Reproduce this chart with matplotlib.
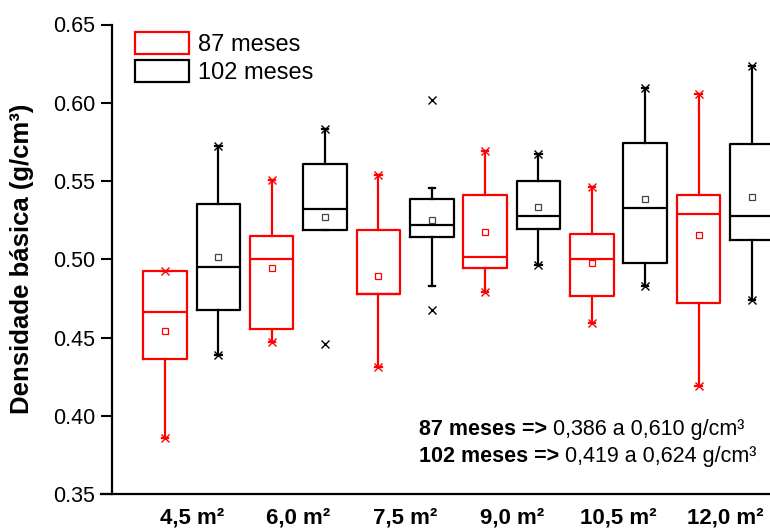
import matplotlib.pyplot as plt
from matplotlib.patches import Patch

plt.rcParams['font.family'] = ['Liberation Sans', 'DejaVu Sans']

groups = ['4,5 m²', '6,0 m²', '7,5 m²', '9,0 m²', '10,5 m²', '12,0 m²']

# 87 meses (red)
red_whislo = [0.386, 0.447, 0.431, 0.479, 0.459, 0.419]
red_q1 = [0.4365, 0.4552, 0.4775, 0.4943, 0.4764, 0.4722]
red_med = [0.4664, 0.5004, 0.4779, 0.5013, 0.5000, 0.5290]
red_q3 = [0.4923, 0.5147, 0.5189, 0.5411, 0.5159, 0.5408]
red_whishi = [0.4923, 0.5506, 0.5536, 0.5693, 0.5459, 0.6055]
red_mean = [0.4541, 0.4945, 0.4892, 0.5175, 0.4979, 0.5156]
red_min = [0.386, 0.447, 0.431, 0.479, 0.459, 0.419]
red_max = [0.4923, 0.5506, 0.5536, 0.5693, 0.5459, 0.6055]

# 102 meses (black)
black_whislo = [0.4388, 0.5187, 0.4828, 0.4964, 0.4828, 0.4739]
black_q1 = [0.4673, 0.5187, 0.5140, 0.5191, 0.4977, 0.5126]
black_med = [0.4951, 0.5319, 0.5219, 0.5274, 0.5330, 0.5274]
black_q3 = [0.5353, 0.5608, 0.5385, 0.5502, 0.5742, 0.5738]
black_whishi = [0.5721, 0.5831, 0.5453, 0.5674, 0.6093, 0.6237]
black_mean = [0.5017, 0.5268, 0.5249, 0.5332, 0.5385, 0.5398]
black_min = [0.4388, 0.4456, 0.4675, 0.4964, 0.4828, 0.4739]
black_max = [0.5721, 0.5831, 0.6017, 0.5674, 0.6093, 0.6237]

RED = '#ff0000'


def make_stats(lo, q1, med, q3, hi, mean, mn, mx):
    out = []
    for i in range(len(lo)):
        out.append({'whislo': lo[i], 'q1': q1[i], 'med': med[i], 'q3': q3[i],
                    'whishi': hi[i], 'mean': mean[i], 'fliers': [mn[i], mx[i]]})
    return out


def draw(ax, stats, pos, color, meancolor):
    ax.bxp(stats, positions=pos, widths=0.815, showmeans=True, capwidths=0.12,
           boxprops=dict(color=color, linewidth=1.6),
           whiskerprops=dict(color=color, linewidth=1.6),
           capprops=dict(color=color, linewidth=1.6),
           medianprops=dict(color=color, linewidth=1.6),
           meanprops=dict(marker='s', markersize=5, markerfacecolor='white',
                          markeredgecolor=meancolor, markeredgewidth=0.9),
           flierprops=dict(marker='x', markersize=5.5, markeredgecolor=color,
                           markeredgewidth=1.0))


fig = plt.figure(figsize=(7.7, 5.28), dpi=100)
ax = fig.add_axes([101 / 770, 34 / 528, 1 - 101 / 770, (494 - 24.5) / 528])
ax.spines['top'].set_visible(False)
ax.spines['right'].set_visible(False)
ax.spines['left'].set_position(('data', 0))
ax.spines['left'].set_linewidth(1.6)
ax.spines['bottom'].set_linewidth(1.6)

red_pos = [1, 3, 5, 7, 9, 11]
black_pos = [2, 4, 6, 8, 10, 12]
draw(ax, make_stats(red_whislo, red_q1, red_med, red_q3, red_whishi, red_mean, red_min, red_max),
     red_pos, RED, RED)
draw(ax, make_stats(black_whislo, black_q1, black_med, black_q3, black_whishi, black_mean,
                    black_min, black_max), black_pos, 'black', '#444444')

ax.set_xlim(-0.2, 12.34)
ax.set_ylim(0.35, 0.65)
ax.set_yticks([0.35, 0.40, 0.45, 0.50, 0.55, 0.60, 0.65])
ax.set_yticklabels(['0.35', '0.40', '0.45', '0.50', '0.55', '0.60', '0.65'])
ax.set_xticks([1.5, 3.5, 5.5, 7.5, 9.5, 11.5])
ax.set_xticklabels(groups, fontweight='bold')
ax.tick_params(axis='x', length=0, pad=10, labelsize=16)
ax.tick_params(axis='y', direction='out', length=8, width=1.5, pad=4, labelsize=15.5)
ax.set_ylabel('Densidade básica (g/cm³)', fontsize=18.5, fontweight='bold')
ax.yaxis.set_label_coords(-0.1, 0.5)

handles = [Patch(facecolor='none', edgecolor=RED, linewidth=1.6),
           Patch(facecolor='none', edgecolor='black', linewidth=1.6)]
fig.legend(handles, ['87 meses', '102 meses'], loc='upper left',
           bbox_to_anchor=(135 / 770, 1 - 32 / 528), bbox_transform=fig.transFigure,
           frameon=False, fontsize=17, handlelength=2.3, handleheight=1.05,
           handletextpad=0.35, labelspacing=0.18, borderpad=0, borderaxespad=0)

lines = [('87 meses =>', ' 0,386 a 0,610 g/cm³', 1 - 435 / 528),
         ('102 meses =>', ' 0,419 a 0,624 g/cm³', 1 - 462 / 528)]
for bold, normal, yv in lines:
    t = ax.text(419 / 770, yv, bold, transform=fig.transFigure, fontsize=15.5,
                fontweight='bold', va='baseline', ha='left')
    ax.annotate(normal, xy=(1, 0), xycoords=t, fontsize=15.5, va='bottom', ha='left')

fig.savefig('out.png', dpi=100)
